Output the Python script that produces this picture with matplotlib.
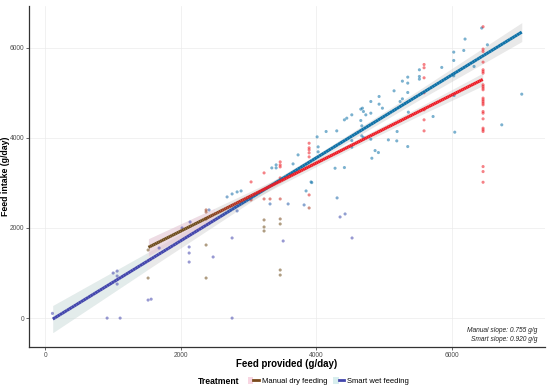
import matplotlib

matplotlib.use("Agg")
import matplotlib.pyplot as plt
import numpy as np
from matplotlib.collections import LineCollection
from matplotlib.colors import LinearSegmentedColormap, Normalize
from matplotlib.legend_handler import HandlerTuple
from matplotlib.lines import Line2D
from matplotlib.patches import Patch

plt.rcParams["font.family"] = ["Liberation Sans", "DejaVu Sans"]

# manual dry feeding: observations (feed provided, feed intake), g/day
manual_x = [
    1520, 1520,
    2376, 2376, 2376, 2376, 2376,
    3040, 3040,
    3232, 3232, 3232, 3232, 3232,
    3320,
    3470, 3470, 3470, 3470, 3470, 3470, 3470, 3470, 3470,
    3897, 3897, 3897, 3897, 3897, 3897, 3897,
    5594, 5594, 5594, 5594, 5594, 5594, 5594,
    6465, 6465, 6465, 6465, 6465, 6465, 6465, 6465, 6465, 6465, 6465, 6465, 6465,
    6465, 6465, 6465, 6465, 6465, 6465, 6465, 6465, 6465, 6465, 6465, 6465,
]
manual_y = [
    1511, 889,
    2400, 2355, 2200, 1622, 889,
    3022, 2622,
    3222, 2644, 2178, 2022, 1933,
    2644,
    3467, 3400, 3356, 3111, 2644, 2200, 2089, 1067, 955,
    3881, 3778, 3733, 3667, 3578, 2733, 2444,
    5628, 5556, 5333, 5000, 4622, 4400, 4155,
    6467, 5970, 5918, 5681, 5511, 5474, 5437, 5178, 5141, 5104, 5067, 4882, 4844,
    4807, 4770, 4733, 4585, 4548, 4422, 4215, 4178, 4141, 3363, 3252, 3015,
]

# smart wet feeding: observations (feed provided, feed intake), g/day
smart_x = [
    108, 915, 1004, 1063, 1063, 1063, 1107, 1520, 1565, 1683,
    2022, 2126, 2126, 2126, 2140, 2420, 2480, 2686, 2760, 2760, 2760, 2834, 2834, 2893,
    3320, 3346, 3410, 3410, 3514, 3587, 3660, 3734, 3823, 3852, 3926, 3936,
    4015, 4030, 4030, 4148, 4280, 4305, 4310, 4354, 4418, 4418, 4428, 4453, 4527, 4527, 4527, 4531,
    4660, 4660, 4675, 4675, 4684, 4699, 4699, 4734, 4808, 4808, 4808, 4823, 4871, 4920, 4930, 4930, 4979,
    5067, 5151, 5191, 5196, 5240, 5274, 5274, 5353, 5353, 5353, 5353, 5362,
    5525, 5525, 5525, 5727, 5855, 6032, 6032, 6032, 6037, 6047, 6180, 6199, 6332, 6445, 6529,
    6741, 7036,
]
smart_y = [
    104, 0, 1000, 1044, 933, 755, 0, 400, 420, 1555,
    2000, 1578, 1444, 1244, 2133, 2400, 1356, 2689, 0, 1778, 2755, 2378, 2800, 2822,
    2533, 3333, 3400, 3333, 1711, 2533, 3422, 3622, 2511, 2822, 3022, 3007,
    4022, 3800, 3690, 4141, 3326, 4155, 2667, 2244, 4400, 3341, 2311, 4437, 4511, 3940, 3793, 1778,
    4637, 4385, 4267, 4044, 4659, 4585, 4007, 4511, 4807, 4548, 3970, 3548, 3718, 3674, 4918, 4748, 4659,
    3955, 5044, 3933, 4141, 4807, 5259, 4866, 5348, 5215, 5007, 3807, 4570,
    5511, 5363, 5303, 4474, 5563, 5903, 5718, 5377, 4940, 4126, 5940, 6193, 5585, 6437, 6066,
    4289, 4970,
]

# fitted lines (slope from the annotation) and confidence band half-widths
manual_slope, manual_intercept = 0.755, 419
smart_slope, smart_intercept = 0.920, -126
manual_range = [1525, 6460]
smart_range = [113, 7036]
manual_band_x = [1525, 2500, 3500, 4500, 5500, 6460]
manual_band_hw = [190, 130, 85, 70, 95, 140]
smart_band_x = [113, 1500, 3000, 4000, 5500, 7036]
smart_band_hw = [300, 190, 90, 65, 110, 210]

manual_cmap = LinearSegmentedColormap.from_list("manual", ["#6e4d1c", "#ee1b24"])
smart_cmap = LinearSegmentedColormap.from_list("smart", ["#4346ad", "#0f72a8"])
color_norm = Normalize(vmin=2150, vmax=2850, clip=True)


def draw_group(ax, xs, ys, slope, intercept, x_range, band_x, band_hw, cmap, tint, tint_alpha):
    band_x = np.array(band_x, dtype=float)
    band_mid = intercept + slope * band_x
    ax.fill_between(band_x, band_mid - band_hw, band_mid + band_hw,
                    color="#c8c8c8", alpha=0.4, linewidth=0, zorder=1)
    # the low end of each band carries a faint tint of the group colour
    low = band_mid < 2600
    ax.fill_between(band_x[low], (band_mid - band_hw)[low], (band_mid + band_hw)[low],
                    color=tint, alpha=tint_alpha, linewidth=0, zorder=1)

    xs = np.array(xs, dtype=float)
    ys = np.array(ys, dtype=float)
    ax.scatter(xs, ys, s=5, c=cmap(color_norm(ys)), alpha=0.55,
               linewidths=0, zorder=2)

    line_x = np.linspace(x_range[0], x_range[1], 200)
    line_y = intercept + slope * line_x
    pts = np.column_stack([line_x, line_y]).reshape(-1, 1, 2)
    segs = np.concatenate([pts[:-1], pts[1:]], axis=1)
    lc = LineCollection(segs, colors=cmap(color_norm(line_y[:-1])), linewidths=2.2,
                        capstyle="butt", zorder=3)
    ax.add_collection(lc)


fig = plt.figure(figsize=(5.5, 3.9), dpi=100)
ax = fig.add_axes([0.053, 0.11, 0.938, 0.875])

draw_group(ax, smart_x, smart_y, smart_slope, smart_intercept, smart_range,
           smart_band_x, smart_band_hw, smart_cmap, "#d6f3f0", 0.3)
draw_group(ax, manual_x, manual_y, manual_slope, manual_intercept, manual_range,
           manual_band_x, manual_band_hw, manual_cmap, "#f9c4dc", 0.35)

ax.set_xlim(-236, 7380)
ax.set_ylim(-644, 6930)
ax.set_xticks([0, 2000, 4000, 6000])
ax.set_yticks([0, 2000, 4000, 6000])
ax.grid(color="#ebebeb", linewidth=0.5)
ax.set_axisbelow(True)
for side in ("top", "right"):
    ax.spines[side].set_visible(False)
for side in ("left", "bottom"):
    ax.spines[side].set_color("#333333")
    ax.spines[side].set_linewidth(0.9)
ax.tick_params(labelsize=4.8, colors="#4d4d4d", length=2, width=0.6, pad=1.5)

ax.set_xlabel("Feed provided (g/day)", fontsize=7, fontweight="bold")
ax.set_ylabel("Feed intake (g/day)", fontsize=6.3, fontweight="bold")
ax.xaxis.set_label_coords(0.5, -0.035)
ax.yaxis.set_label_coords(-0.037, 0.5)

ax.text(0.985, 0.012, "Manual slope: 0.755 g/g\nSmart slope: 0.920 g/g",
        transform=ax.transAxes, ha="right", va="bottom", fontsize=4.8,
        style="italic", color="#222222", linespacing=1.5)

manual_key = (Patch(facecolor="#f8d6e2", edgecolor="none"),
              Line2D([], [], color="#7a4a1c", linewidth=2))
smart_key = (Patch(facecolor="#d8eeee", edgecolor="none"),
             Line2D([], [], color="#4346ad", linewidth=2))
fig.legend([manual_key, smart_key], ["Manual dry feeding", "Smart wet feeding"],
           handler_map={tuple: HandlerTuple(ndivide=None, pad=0)},
           loc="center", bbox_to_anchor=(0.597, 0.022), ncol=2, frameon=False,
           fontsize=5.5, handlelength=1.4, handleheight=1.0, columnspacing=0.8,
           handletextpad=0.4)
fig.text(0.435, 0.022, "Treatment", fontsize=6.2, fontweight="bold",
         ha="right", va="center")

fig.savefig("out.png", dpi=100)
